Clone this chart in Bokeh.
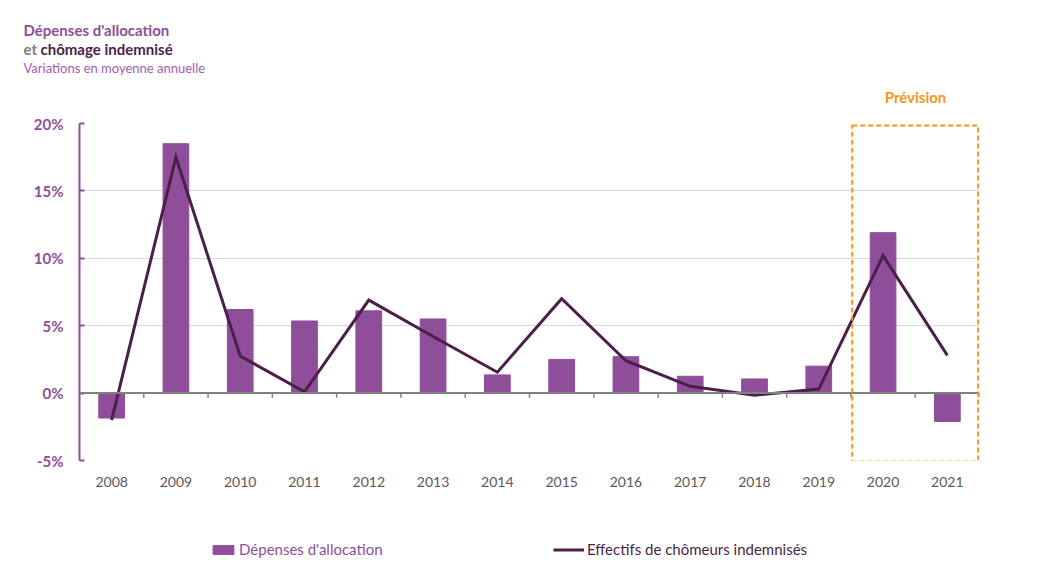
from bokeh.plotting import figure
from bokeh.layouts import column, row
from bokeh.models import (FactorRange, Range1d, Label, BoxAnnotation, Span, Legend,
                          LegendItem, ColumnDataSource, FixedTicker, PrintfTickFormatter)
from bokeh.embed import file_html
from bokeh.resources import INLINE

years = ["2008", "2009", "2010", "2011", "2012", "2013", "2014",
         "2015", "2016", "2017", "2018", "2019", "2020", "2021"]
depenses = [-1.85, 18.5, 6.2, 5.35, 6.1, 5.5, 1.35, 2.5, 2.7, 1.25, 1.05, 2.0, 11.9, -2.1]
effectifs = [-2.0, 17.5, 2.75, 0.1, 6.9, 4.2, 1.55, 7.0, 2.4, 0.5, -0.15, 0.3, 10.2, 2.8]
y_ticks = [-5, 0, 5, 10, 15, 20]

FONT = "Lato"
PURPLE = "#8E4E9A"
DARK = "#4B1F49"
ORANGE = "#F7941D"
GRAY = "#595959"
W = 1050

src = ColumnDataSource(dict(year=years, dep=depenses, eff=effectifs))


def blank(height, **kw):
    f = figure(width=W, height=height, output_backend="svg", toolbar_location=None,
               x_axis_location=None, y_axis_location=None, min_border=0,
               min_border_left=0, min_border_right=0, min_border_top=0,
               min_border_bottom=0, **kw)
    f.outline_line_color = None
    f.grid.visible = False
    return f


# ---------------- header ----------------
head = blank(113, x_range=Range1d(0, 1), y_range=Range1d(0, 1))
for txt, x, y, col, size, style in [
    ("Dépenses d'allocation", 23, 84, PURPLE, "15px", "bold"),
    ("et", 23, 65, "#7F7F7F", "15px", "bold"),
    ("chômage indemnisé", 40, 65, DARK, "15px", "bold"),
    ("Variations en moyenne annuelle", 23, 46, "#A35DB0", "13px", "normal"),
]:
    head.add_layout(Label(x=x, y=y, x_units="screen", y_units="screen", text=txt,
                          text_baseline="middle", text_color=col, text_font=FONT,
                          text_font_size=size, text_font_style=style))
head.add_layout(Label(x=915, y=17, x_units="screen", y_units="screen", text="Prévision",
                      text_align="center", text_baseline="middle", text_color=ORANGE,
                      text_font=FONT, text_font_size="15px", text_font_style="bold"))

# ---------------- main chart ----------------
p = figure(width=W, height=387, output_backend="svg", toolbar_location=None,
           x_range=FactorRange(*years, range_padding=0), y_range=Range1d(-5, 20),
           min_border_left=79, min_border_right=71, min_border_top=10, min_border_bottom=40)
p.outline_line_color = None

p.vbar(x="year", top="dep", width=0.4, source=src, fill_color=PURPLE, line_color=PURPLE)
p.line(x="year", y="eff", source=src, line_width=3, line_color=DARK, line_join="miter")

p.add_layout(Span(location=0, dimension="width", line_color="#808080", line_width=2))
bounds = list(range(1, len(years) + 1))
p.segment(x0=bounds, y0=[0] * len(bounds), x1=bounds, y1=[-0.35] * len(bounds),
          line_color="#808080", line_width=1.5)

p.yaxis.ticker = FixedTicker(ticks=y_ticks)
p.yaxis.formatter = PrintfTickFormatter(format="%d%%")
p.yaxis.axis_line_color = PURPLE
p.yaxis.axis_line_width = 2
p.yaxis.major_tick_line_color = PURPLE
p.yaxis.major_tick_line_width = 2
p.yaxis.major_tick_out = 0
p.yaxis.major_tick_in = 5
p.yaxis.minor_tick_line_color = None
p.yaxis.major_label_text_color = PURPLE
p.yaxis.major_label_text_font = FONT
p.yaxis.major_label_text_font_size = "15px"
p.yaxis.major_label_text_font_style = "bold"
p.yaxis.major_label_standoff = 16

p.xaxis.axis_line_color = None
p.xaxis.major_tick_line_color = None
p.xaxis.major_tick_out = 0
p.xaxis.major_tick_in = 0
p.xaxis.major_label_text_color = GRAY
p.xaxis.major_label_text_font = FONT
p.xaxis.major_label_text_font_size = "14px"
p.xaxis.major_label_standoff = 16

p.xgrid.grid_line_color = None
p.ygrid.ticker = FixedTicker(ticks=y_ticks)
p.ygrid.grid_line_color = "#D9D9D9"
p.ygrid.grid_line_width = 1

p.add_layout(BoxAnnotation(left=12.02, right=13.98, bottom=-5.05, top=19.85,
                           fill_color=None, fill_alpha=0, line_color=ORANGE,
                           line_alpha=1, line_width=2, line_dash="5 3"))

# ---------------- footer / legend ----------------
# same series, drawn out of view: only their legend swatches show
foot = blank(80, x_range=FactorRange(*years), y_range=Range1d(100, 101))
lb = foot.vbar(x="year", top="dep", width=0.4, source=src, fill_color=PURPLE, line_color=PURPLE)
ll = foot.line(x="year", y="eff", source=src, line_width=3, line_color=DARK)


def mk_legend(item, loc, color, gw):
    lg = Legend(items=[item], location=loc, orientation="horizontal",
                border_line_color=None, background_fill_alpha=0,
                padding=0, margin=0, glyph_width=gw, glyph_height=11,
                label_standoff=3, label_text_font=FONT, label_text_font_size="15px",
                label_text_color=color, label_height=16)
    foot.add_layout(lg, "center")


mk_legend(LegendItem(label="Dépenses d'allocation", renderers=[lb]), (210, 22), PURPLE, 26)
mk_legend(LegendItem(label="Effectifs de chômeurs indemnisés", renderers=[ll]), (553, 22), DARK, 31)

layout = column(row(head), p, row(foot), spacing=0)
open("out.html", "w").write(file_html(layout, INLINE))
